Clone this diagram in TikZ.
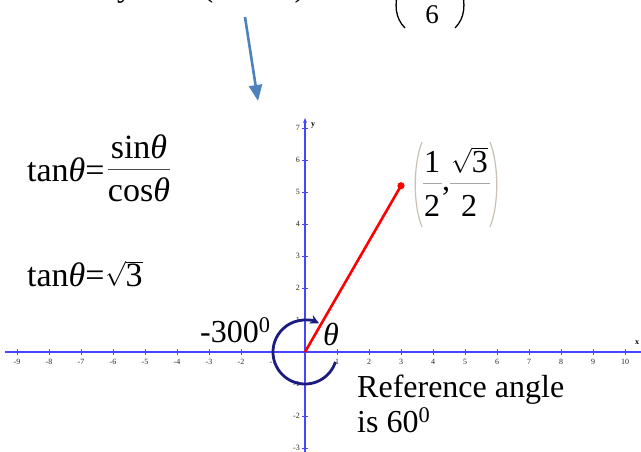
\documentclass[tikz,border=0pt]{standalone}
\usepackage{fontspec}
\setmainfont{Liberation Serif}
\usetikzlibrary{arrows.meta}
\definecolor{axisblue}{HTML}{4646FF}
\definecolor{navyarc}{HTML}{1C1C80}
\definecolor{arrowblue}{HTML}{4F81BD}
\definecolor{parengray}{HTML}{C9C0B6}
\definecolor{bargray}{HTML}{A6A6A6}
\begin{document}
\begin{tikzpicture}[x=1pt,y=-1pt,
  big/.style={font=\fontsize{32}{38}\selectfont, inner sep=0pt},
  eqn/.style={font=\fontsize{34}{40}\selectfont, inner sep=0pt},
  mid/.style={font=\fontsize{27}{32}\selectfont, inner sep=0pt},
  ticklbl/.style={font=\fontsize{8}{9}\selectfont, inner sep=0pt, text=black!85},
  axislbl/.style={font=\fontsize{8}{9}\selectfont\bfseries, inner sep=0pt},
  axisline/.style={axisblue, line width=1.6pt},
  tickline/.style={axisblue, line width=0.8pt},
  fracbar/.style={line width=0.9pt},
  parline/.style={parengray, line width=1.2pt}]
\useasboundingbox (0,0) rectangle (641,451);
\clip (0,0) rectangle (641,451);

% ---------- top (cut-off) text fragments ----------
\node[big, anchor=base] (fy) at (125,-4) {y};
\node[big, anchor=base] (fl) at (208,-4) {(};
\node[big, anchor=base] (fr) at (300,-4) {)};
\node[mid, anchor=base] (six) at (432,23) {6};
\draw[line width=1.3pt] (399,-12) .. controls (394,4) and (395,18) .. (405,28);
\draw[line width=1.3pt] (461,-12) .. controls (466,4) and (465,18) .. (455,28);

% ---------- blue arrow ----------
\coordinate (a1) at (245,17);
\coordinate (a2) at (258,101);
\draw[arrowblue, line width=2.6pt, -{Triangle[length=16pt,width=13pt]}] (a1) -- (a2);

% ---------- axes ----------
\coordinate (O) at (305,352);
\coordinate (xl) at (5,352);
\coordinate (xr) at (645,352);
\coordinate (yb) at (305,455);
\coordinate (yt) at (305,118);
\draw[axisline] (xl) -- (xr);
\draw[axisline, -{Stealth[length=5pt,width=4pt]}] (yb) -- (yt);
\foreach \i in {-9,...,-1,1,2,...,10}{
  \draw[tickline] ({305+32*(\i)},349) -- ({305+32*(\i)},355);
  \node[ticklbl] (xt\i) at ({305+32*(\i)},362) {\i};
}
\foreach \j in {-3,...,-1,1,2,...,7}{
  \draw[tickline] (302,{352-32*(\j)}) -- (308,{352-32*(\j)});
  \node[ticklbl, anchor=east] (yt\j) at (300,{352-32*(\j)}) {\j};
}
\node[axislbl] (xlab) at (637,343) {x};
\node[axislbl] (ylab) at (313,126) {y};

% ---------- circle arc and red ray ----------
\begin{scope}[shift={(O)}, x=32pt, y=32pt]
  \draw[navyarc, line width=2.8pt, -{Stealth[length=9pt,width=9pt]}]
    (-18:1) arc[start angle=-18, end angle=-296, radius=1];
  \coordinate (P) at (3,5.196);
  \draw[red, line width=2.6pt] (0,0) -- (P);
  \fill[red] (P) circle (3.6pt);
\end{scope}

% ---------- labels near the graph ----------
\node[big, anchor=base] (theta) at (331,345) {\textit{θ}};
\node[big, anchor=base west] (m300) at (200,342) {-300\textsuperscript{0}};
\node[big, anchor=base west] (ref1) at (357,397) {Reference angle};
\node[big, anchor=base west] (ref2) at (357,432) {is 60\textsuperscript{0}};

% ---------- point label ----------
\draw[parline] (422,142) .. controls (413,165) and (413,205) .. (422,227);
\draw[parline] (490,142) .. controls (499,165) and (499,205) .. (490,227);
\node[big, anchor=base] (one) at (432,172) {1};
\node[big, anchor=base] (twoa) at (432,216) {2};
\draw[bargray, fracbar] (423,183) -- (442,183);
\node[big, anchor=base] (comma) at (446,190) {,};
\node[big, anchor=base west] (sq) at (451,172) {$\sqrt{\mbox{3}}$};
\node[big, anchor=base] (twob) at (469,216) {2};
\draw[bargray, fracbar] (450,183) -- (490,183);

% ---------- formulas ----------
\node[eqn, anchor=base west] (tan1) at (27,181) {tan\textit{θ}=};
\node[eqn, anchor=base] (num) at (139,158) {sin\textit{θ}};
\draw[fracbar, black!70] (108,169) -- (170,169);
\node[eqn, anchor=base] (den) at (139,201) {cos\textit{θ}};
\node[eqn, anchor=base west] (tan2) at (27,286) {tan\textit{θ}=};
\node[eqn, anchor=base west] (rt3) at (tan2.base east) {$\sqrt{\mbox{3}}$};
\end{tikzpicture}
\end{document}
